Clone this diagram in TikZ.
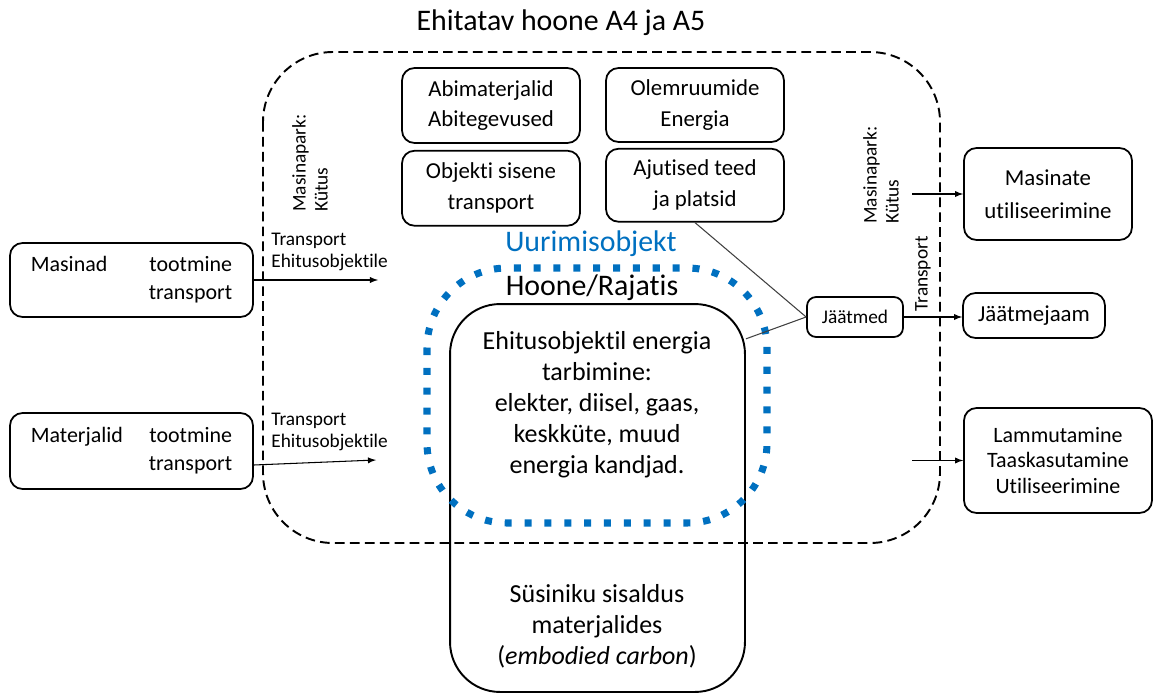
\documentclass[tikz,border=0pt]{standalone}
\usepackage{fontspec}
\setmainfont{Carlito}[Ligatures=NoCommon]
\usetikzlibrary{arrows}
\usetikzlibrary{positioning}

\definecolor{uuringblue}{RGB}{0,112,192}

\begin{document}
\begin{tikzpicture}[x=0.02cm, y=-0.02cm,
    box/.style={draw, line width=1pt, rounded corners=0.25cm, align=center, inner sep=0pt,
      font=\fontsize{13}{17.5}\selectfont},
    small/.style={inner sep=0pt, align=left, font=\fontsize{11}{12.5}\selectfont},
    big/.style={inner sep=0pt, font=\fontsize{17}{20}\selectfont},
    body/.style={inner sep=0pt, align=center, font=\fontsize{14.8}{17.6}\selectfont},
    arrow/.style={-latex, line width=0.6pt},
    link/.style={line width=0.6pt, black!75}]

      \useasboundingbox (0,0) rectangle (1153,693);

      % Title and building site boundary
      \node[big] (title) at (561,23) {Ehitatav hoone A4 ja A5};
      \draw[line width=1.1pt, dash pattern=on 5.5pt off 3pt, rounded corners=1.4cm] (263,52) rectangle (940,543);

      % Boxes inside the site
      \node[box, minimum width=3.56cm, minimum height=1.5cm] (abi) at (491,105.5) {Abimaterjalid\\Abitegevused};
      \node[box, minimum width=3.56cm, minimum height=1.5cm, below=0.12cm of abi] (sisene) {Objekti sisene\\transport};
      \node[box, minimum width=3.56cm, minimum height=1.48cm] (olem) at (695,105) {Olemruumide\\Energia};
      \node[box, minimum width=3.56cm, minimum height=1.46cm, below=0.1cm of olem] (teed) {Ajutised teed\\ja platsid};

      % Inputs on the left
      \node[box, minimum width=4.86cm, minimum height=1.48cm, font=\fontsize{12.5}{16}\selectfont] (masinad) at (131.5,280)
        {\begin{tabular}{@{}p{2.36cm}@{}r@{}}Masinad & tootmine\\ & transport\end{tabular}};
      \node[box, minimum width=4.86cm, minimum height=1.52cm, font=\fontsize{12.5}{16}\selectfont] (materjalid) at (131.5,451)
        {\begin{tabular}{@{}p{2.36cm}@{}r@{}}Materjalid & tootmine\\ & transport\end{tabular}};

      \coordinate (masEnd) at (378,280);
      \coordinate (matEnd) at (376,460);
      \draw[arrow] (masinad.east) -- (masEnd);
      \draw[arrow] ([yshift=-0.28cm]materjalid.east) -- (matEnd);
      \node[small, anchor=west] (transMas) at (271,252) {Transport\\Ehitusobjektile};
      \node[small, anchor=west] (transMat) at (271,432) {Transport\\Ehitusobjektile};
      \node[small, rotate=90] (parkL) at (310,163) {Masinapark:\\Kütus};

      % Building and research object
      \node[draw, line width=1.1pt, rounded corners=1cm, minimum width=5.9cm, minimum height=7.76cm, inner sep=0pt] (hoone) at (597.5,498) {};
      \node[body] (tarbimine) at (597,405) {Ehitusobjektil energia\\tarbimine:\\elekter, diisel, gaas,\\keskküte, muud\\energia kandjad.};
      \node[body] (sisaldus) at (597,626) {Süsiniku sisaldus\\materjalides\\(\textit{embodied carbon})};
      \draw[uuringblue, line width=4pt, dash pattern=on 4pt off 7.3pt, rounded corners=1.6cm] (427,268) rectangle (767,523);
      \node[big, text=uuringblue] (uurimis) at (591,244) {Uurimisobjekt};
      \node[big] (rajatis) at (592,288) {Hoone/Rajatis};

      % Waste
      \node[box, minimum width=1.92cm, minimum height=0.8cm, rounded corners=0.18cm, font=\fontsize{11}{13}\selectfont] (jaatmed) at (855,317) {Jäätmed};
      \draw[link] (teed.south) -- (jaatmed.west);
      \draw[link] (hoone.47.5) -- (jaatmed.west);

      % Outputs on the right
      \node[box, minimum width=3.36cm, minimum height=1.84cm, font=\fontsize{13}{19}\selectfont] (utilis) at (1048,194) {Masinate\\utiliseerimine};
      \node[box, minimum width=2.84cm, minimum height=0.9cm] (jaam) at (1034,315.5) {Jäätmejaam};
      \node[box, minimum width=3.76cm, minimum height=2.1cm, font=\fontsize{12.5}{14.7}\selectfont] (lammut) at (1058,460.5) {Lammutamine\\Taaskasutamine\\Utiliseerimine};

      \node[small, rotate=90] (parkR) at (881,175) {Masinapark:\\Kütus};
      \node[small, rotate=90] (transR) at (923,274) {Transport};

      \coordinate (kytusStart) at (912,194);
      \coordinate (lammStart) at (912,460.5);
      \draw[arrow] (kytusStart) -- (utilis.west);
      \draw[arrow] (jaatmed.east) -- (jaatmed.east -| jaam.west);
      \draw[arrow] (lammStart) -- (lammut.west);
    \end{tikzpicture}
\end{document}
